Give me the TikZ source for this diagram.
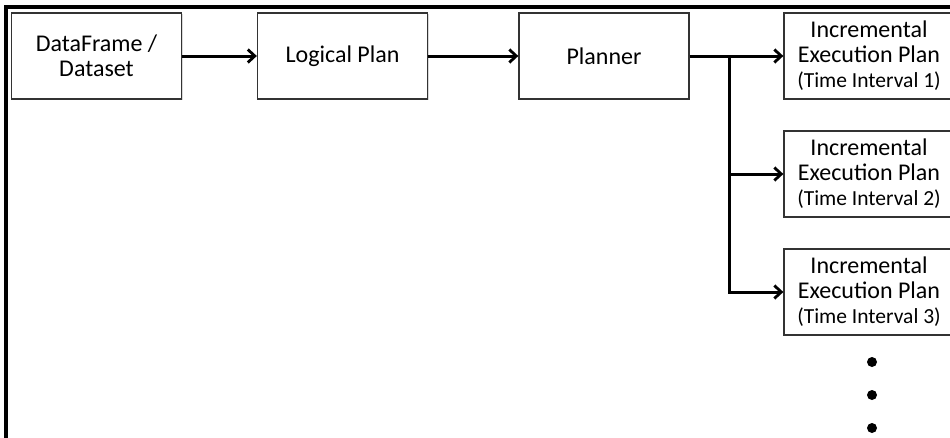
\documentclass[tikz,border=0pt]{standalone}
\usepackage{fontspec}
\setmainfont{Carlito}
\usetikzlibrary{positioning,arrows.meta,shadows}

\begin{document}
\begin{tikzpicture}[x=1pt,y=-1pt]
    \tikzset{
        stage/.style={draw=black!80,line width=1.3pt,fill=white,minimum width=170pt,minimum height=86pt,
            inner sep=1pt,align=center,font=\fontsize{24}{25}\selectfont,
            drop shadow={opacity=0.3,shadow xshift=1.2pt,shadow yshift=-1.2pt}},
        flow/.style={line width=3pt,-{Straight Barb[length=7pt,width=13pt,line width=2.8pt]}},}
    \def\interval#1{\\{\fontsize{21.5}{25}\selectfont (Time Interval #1)}}
    \clip (0,0) rectangle (950,437);
    \draw [line width=3.2pt](6,7) rectangle (990,480);
    \node [stage] (df) at (96.5,56) {DataFrame /\\Dataset};
    \node [stage] (logical) at (342.5,56) {Logical Plan};
    \node [stage] (planner) at (604,56) {Planner};
    \node [stage] (incA) at (869,56) {Incremental\\Execution Plan\interval{1}};
    \node [stage] (incB) at (869,174) {Incremental\\Execution Plan\interval{2}};
    \node [stage] (incC) at (869,292) {Incremental\\Execution Plan\interval{3}};
    \coordinate (split) at (729,56);
    \draw [flow] (df) -- (logical);
    \draw [flow] (logical) -- (planner);
    \draw [flow] (planner) -- (incA);
    \draw [flow] (split) |- (incB.west);
    \draw [flow] (split) |- (incC.west);
    \foreach \y in {362,395,428}
        \fill (872,\y) circle (5pt);
\end{tikzpicture}
\end{document}
